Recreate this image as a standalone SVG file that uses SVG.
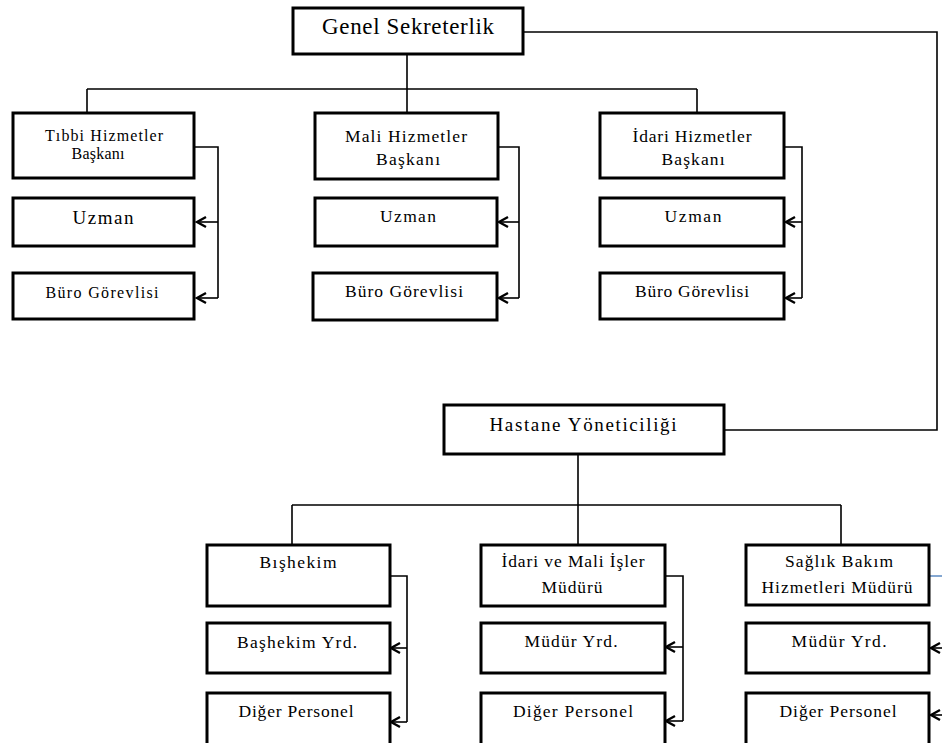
<svg xmlns="http://www.w3.org/2000/svg" width="942" height="743" viewBox="0 0 942 743">
  <style>
    .box { fill: #ffffff; stroke: #000000; stroke-width: 3; }
    .ln { fill: none; stroke: #000000; stroke-width: 1.6; }
    .arw { fill: none; stroke: #000000; stroke-width: 1.6; marker-end: url(#chev); }
    .t { font-family: "Liberation Serif", "Times New Roman", serif; fill: #000000; text-anchor: middle; font-size: 17.5px; }
    .sm { font-size: 16px; }
    .big { font-size: 23px; }
    .mid { font-size: 19px; }
  </style>
  <defs>
    <marker id="chev" markerUnits="userSpaceOnUse" viewBox="-12 -7 14 14" refX="0" refY="0" markerWidth="14" markerHeight="14" orient="auto">
      <path d="M-9,-5 L0,0 L-9,5" fill="none" stroke="#000000" stroke-width="2.4"/>
    </marker>
  </defs>
  <rect width="942" height="743" fill="#ffffff"/>

  <!-- connectors -->
  <g id="connectors">
    <!-- top level to departments -->
    <path class="ln" d="M407,54 V89 M87,89 H697 M87,89 V113 M407,89 V113 M697,89 V113"/>
    <!-- Genel Sekreterlik to Hastane Yöneticiliği -->
    <path class="ln" d="M524,32 H937 V430 H724" stroke-width="2"/>
    <!-- column 1 -->
    <path class="ln" d="M195,147 H218 V298"/>
    <path class="arw" d="M218,222 H197"/>
    <path class="arw" d="M218,298 H197"/>
    <!-- column 2 -->
    <path class="ln" d="M498,147 H519 V298"/>
    <path class="arw" d="M519,222 H499"/>
    <path class="arw" d="M519,298 H499"/>
    <!-- column 3 -->
    <path class="ln" d="M784,147 H802 V298"/>
    <path class="arw" d="M802,222 H786"/>
    <path class="arw" d="M802,298 H786"/>
    <!-- hospital level -->
    <path class="ln" d="M578,454 V505 M292,505 H841 M292,505 V545 M578,505 V545 M841,505 V545"/>
    <!-- bottom column 1 -->
    <path class="ln" d="M390,576 H407 V722"/>
    <path class="arw" d="M407,648 H391"/>
    <path class="arw" d="M407,722 H391"/>
    <!-- bottom column 2 -->
    <path class="ln" d="M665,576 H683 V721"/>
    <path class="arw" d="M683,647 H666"/>
    <path class="arw" d="M683,721 H666"/>
    <!-- bottom column 3 -->
    <path d="M929,576 H942" fill="none" stroke="#4f81bd" stroke-width="1.4"/>
    <path class="arw" d="M945,648 H931"/>
    <path class="arw" d="M945,715 H931"/>
  </g>

  <g id="genel-sekreterlik">
    <rect class="box" x="293" y="8" width="230" height="46"/>
    <text class="t big" x="408" y="34" textLength="172" lengthAdjust="spacing">Genel Sekreterlik</text>
  </g>

  <g id="tibbi-hizmetler">
    <rect class="box" x="13" y="113" width="181" height="65"/>
    <text class="t sm" x="104" y="141" textLength="118" lengthAdjust="spacing">Tıbbi Hizmetler</text>
    <text class="t sm" x="98" y="159" textLength="53" lengthAdjust="spacing">Başkanı</text>
  </g>
  <g id="uzman-1">
    <rect class="box" x="13" y="198" width="181" height="48"/>
    <text class="t mid" x="103" y="224" textLength="61" lengthAdjust="spacing">Uzman</text>
  </g>
  <g id="buro-1">
    <rect class="box" x="13" y="273" width="181" height="46"/>
    <text class="t sm" x="102" y="298" textLength="113" lengthAdjust="spacing">Büro Görevlisi</text>
  </g>

  <g id="mali-hizmetler">
    <rect class="box" x="315" y="113" width="183" height="66"/>
    <text class="t" x="406" y="142" textLength="122" lengthAdjust="spacing">Mali Hizmetler</text>
    <text class="t" x="408" y="165" textLength="64" lengthAdjust="spacing">Başkanı</text>
  </g>
  <g id="uzman-2">
    <rect class="box" x="315" y="198" width="182" height="48"/>
    <text class="t" x="408" y="222" textLength="56" lengthAdjust="spacing">Uzman</text>
  </g>
  <g id="buro-2">
    <rect class="box" x="313" y="273" width="184" height="47"/>
    <text class="t" x="404" y="297" textLength="118" lengthAdjust="spacing">Büro Görevlisi</text>
  </g>

  <g id="idari-hizmetler">
    <rect class="box" x="600" y="113" width="184" height="65"/>
    <text class="t" x="692" y="142" textLength="119" lengthAdjust="spacing">İdari Hizmetler</text>
    <text class="t" x="693" y="165" textLength="63" lengthAdjust="spacing">Başkanı</text>
  </g>
  <g id="uzman-3">
    <rect class="box" x="600" y="198" width="184" height="48"/>
    <text class="t" x="693" y="222" textLength="57" lengthAdjust="spacing">Uzman</text>
  </g>
  <g id="buro-3">
    <rect class="box" x="600" y="273" width="184" height="46"/>
    <text class="t" x="692" y="297" textLength="114" lengthAdjust="spacing">Büro Görevlisi</text>
  </g>

  <g id="hastane-yoneticiligi">
    <rect class="box" x="444" y="405" width="280" height="49"/>
    <text class="t mid" x="583" y="431" textLength="187" lengthAdjust="spacing">Hastane Yöneticiliği</text>
  </g>

  <g id="bashekim">
    <rect class="box" x="207" y="545" width="183" height="61"/>
    <text class="t" x="298" y="568" textLength="77" lengthAdjust="spacing">Bışhekim</text>
  </g>
  <g id="bashekim-yrd">
    <rect class="box" x="207" y="623" width="183" height="50"/>
    <text class="t" x="297" y="648" textLength="120" lengthAdjust="spacing">Başhekim Yrd.</text>
  </g>
  <g id="diger-personel-1">
    <rect class="box" x="207" y="693" width="183" height="55"/>
    <text class="t" x="296" y="717" textLength="115" lengthAdjust="spacing">Diğer Personel</text>
  </g>

  <g id="idari-mali-isler">
    <rect class="box" x="481" y="545" width="184" height="61"/>
    <text class="t" x="573" y="567" textLength="143" lengthAdjust="spacing">İdari ve Mali İşler</text>
    <text class="t" x="572" y="593" textLength="61" lengthAdjust="spacing">Müdürü</text>
  </g>
  <g id="mudur-yrd-1">
    <rect class="box" x="481" y="623" width="184" height="50"/>
    <text class="t" x="571" y="647" textLength="93" lengthAdjust="spacing">Müdür Yrd.</text>
  </g>
  <g id="diger-personel-2">
    <rect class="box" x="481" y="693" width="184" height="55"/>
    <text class="t" x="573" y="717" textLength="120" lengthAdjust="spacing">Diğer Personel</text>
  </g>

  <g id="saglik-bakim">
    <rect class="box" x="746" y="545" width="183" height="60"/>
    <text class="t" x="839" y="567" textLength="108" lengthAdjust="spacing">Sağlık Bakım</text>
    <text class="t" x="837" y="593" textLength="151" lengthAdjust="spacing">Hizmetleri Müdürü</text>
  </g>
  <g id="mudur-yrd-2">
    <rect class="box" x="746" y="623" width="183" height="50"/>
    <text class="t" x="839" y="647" textLength="95" lengthAdjust="spacing">Müdür Yrd.</text>
  </g>
  <g id="diger-personel-3">
    <rect class="box" x="746" y="693" width="183" height="55"/>
    <text class="t" x="838" y="717" textLength="117" lengthAdjust="spacing">Diğer Personel</text>
  </g>
</svg>
